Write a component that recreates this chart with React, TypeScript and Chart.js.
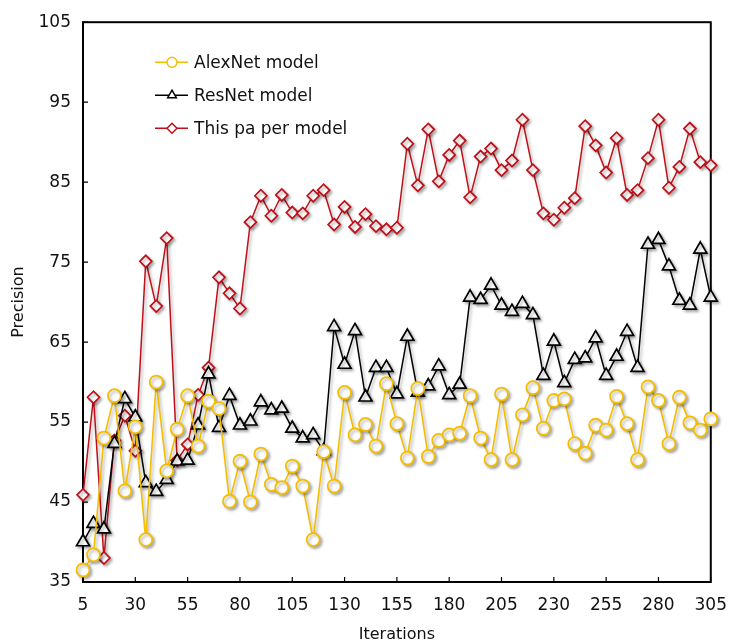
import React, { useEffect, useRef } from 'react';
import { Chart, registerables } from 'chart.js';
import { drawPoint } from 'chart.js/helpers';

Chart.register(...registerables);

const iterations = [
  5, 10, 15, 20, 25, 30, 35, 40, 45, 50, 55, 60, 65, 70, 75, 80, 85, 90, 95, 100,
  105, 110, 115, 120, 125, 130, 135, 140, 145, 150, 155, 160, 165, 170, 175, 180, 185, 190, 195, 200,
  205, 210, 215, 220, 225, 230, 235, 240, 245, 250, 255, 260, 265, 270, 275, 280, 285, 290, 295, 300, 305,
];

const alexNet = [
  36.5, 38.4, 53.0, 58.3, 46.4, 54.4, 40.3, 60.0, 48.9, 54.1, 58.3, 52.0, 57.6, 56.7, 45.1, 50.1, 45.0, 51.0, 47.2, 46.8,
  49.5, 47.0, 40.3, 51.3, 47.0, 58.7, 53.4, 54.7, 52.0, 59.8, 54.8, 50.5, 59.2, 50.7, 52.7, 53.4, 53.6, 58.3, 53.0, 50.3,
  58.5, 50.3, 55.9, 59.3, 54.2, 57.7, 57.9, 52.3, 51.1, 54.6, 54.0, 58.2, 54.8, 50.3, 59.4, 57.7, 52.3, 58.1, 54.9, 54.0, 55.4,
];

const resNet = [
  40.0, 42.3, 41.6, 52.3, 57.9, 55.6, 47.4, 46.3, 47.8, 50.1, 50.2, 54.6, 61.0, 54.3, 58.3, 54.6, 55.1, 57.5, 56.5, 56.7,
  54.2, 53.0, 53.4, 51.4, 66.9, 62.2, 66.4, 58.1, 61.8, 61.8, 58.5, 65.7, 58.7, 59.5, 62.0, 58.4, 59.7, 70.6, 70.3, 72.1,
  69.6, 68.8, 69.8, 68.4, 60.8, 65.1, 59.9, 62.8, 63.0, 65.5, 60.8, 63.2, 66.3, 61.8, 77.2, 77.8, 74.5, 70.2, 69.6, 76.6, 70.6,
];

const thisPaper = [
  45.9, 58.1, 38.0, 52.7, 55.8, 51.4, 75.1, 69.5, 78.0, 50.2, 52.2, 58.4, 61.8, 73.1, 71.1, 69.2, 80.0, 83.3, 80.8, 83.4,
  81.2, 81.1, 83.3, 84.0, 79.7, 81.9, 79.4, 81.0, 79.5, 79.1, 79.3, 89.8, 84.6, 91.6, 85.1, 88.4, 90.2, 83.1, 88.2, 89.2,
  86.5, 87.7, 92.8, 86.5, 81.1, 80.3, 81.8, 83.0, 92.0, 89.6, 86.2, 90.5, 83.4, 84.0, 88.0, 92.8, 84.3, 86.9, 91.7, 87.5, 87.1,
];

const xTickValues = [5, 30, 55, 80, 105, 130, 155, 180, 205, 230, 255, 280, 305];
const yTickValues = [35, 45, 55, 65, 75, 85, 95, 105];

const seriesNames = ['AlexNet model', 'ResNet model', 'This pa per model'];
const xTitle = 'Iterations';
const yTitle = 'Precision';

const FONT = "'DejaVu Sans', Verdana, sans-serif";
const YELLOW = '#F4BE00';
const BLACK = '#000000';
const RED = '#C00F18';

const framePlugin = {
  id: 'frameTicks',
  beforeDatasetsDraw(chart: any) {
    const { ctx, chartArea: a, scales } = chart;
    ctx.save();
    ctx.strokeStyle = '#000';
    ctx.lineWidth = 2;
    ctx.strokeRect(a.left, a.top, a.right - a.left, a.bottom - a.top);
    ctx.lineWidth = 1.2;
    ctx.beginPath();
    scales.x.ticks.forEach((t: any) => {
      const px = scales.x.getPixelForValue(t.value);
      ctx.moveTo(px, a.bottom);
      ctx.lineTo(px, a.bottom - 5);
    });
    scales.y.ticks.forEach((t: any) => {
      const py = scales.y.getPixelForValue(t.value);
      ctx.moveTo(a.left, py);
      ctx.lineTo(a.left + 5, py);
    });
    ctx.stroke();
    ctx.restore();
    ctx.save();
    ctx.shadowColor = 'rgba(0,0,0,0.3)';
    ctx.shadowBlur = 3;
    ctx.shadowOffsetX = 2;
    ctx.shadowOffsetY = 2;
  },
  afterDatasetsDraw(chart: any) {
    chart.ctx.restore();
  },
};

const legendPlugin = {
  id: 'insideLegend',
  afterDraw(chart: any) {
    const { ctx, chartArea: a } = chart;
    const x0 = a.left + 72;
    const y0 = a.top + 40;
    const rowGap = 33;
    chart.data.datasets.forEach((ds: any, i: number) => {
      const y = y0 + i * rowGap;
      ctx.save();
      ctx.strokeStyle = ds.borderColor;
      ctx.lineWidth = 1.5;
      ctx.beginPath();
      ctx.moveTo(x0, y);
      ctx.lineTo(x0 + 33, y);
      ctx.stroke();
      ctx.fillStyle = '#ffffff';
      ctx.strokeStyle = ds.pointBorderColor;
      drawPoint(ctx, { pointStyle: ds.pointStyle, radius: 5, borderWidth: 1.5, rotation: 0 } as any, x0 + 17, y);
      ctx.fillStyle = '#111111';
      ctx.font = `17px ${FONT}`;
      ctx.textBaseline = 'middle';
      ctx.textAlign = 'left';
      ctx.fillText(ds.label, x0 + 39, y + 1);
      ctx.restore();
    });
  },
};

export default function App() {
  const ref = useRef<HTMLCanvasElement | null>(null);

  useEffect(() => {
    if (!ref.current) return;
    const mk = (values: number[]) => iterations.map((x, i) => ({ x, y: values[i] }));
    const chart = new Chart(ref.current, {
      type: 'line',
      data: {
        datasets: [
          {
            label: seriesNames[0],
            data: mk(alexNet),
            borderColor: YELLOW,
            pointBorderColor: YELLOW,
            pointBackgroundColor: '#ffffff',
            pointStyle: 'circle',
            pointRadius: 6.5,
            pointBorderWidth: 1.8,
            borderWidth: 1.6,
            tension: 0,
            clip: false,
          },
          {
            label: seriesNames[1],
            data: mk(resNet),
            borderColor: BLACK,
            pointBorderColor: BLACK,
            pointBackgroundColor: '#ffffff',
            pointStyle: 'triangle',
            pointRadius: 7.5,
            pointBorderWidth: 1.7,
            borderWidth: 1.5,
            tension: 0,
            clip: false,
          },
          {
            label: seriesNames[2],
            data: mk(thisPaper),
            borderColor: RED,
            pointBorderColor: RED,
            pointBackgroundColor: '#ffffff',
            pointStyle: 'rectRot',
            pointRadius: 6,
            pointBorderWidth: 1.7,
            borderWidth: 1.5,
            tension: 0,
            clip: false,
          },
        ] as any,
      },
      options: {
        responsive: false,
        animation: false,
        events: [],
        layout: { padding: { top: 15, right: 18, bottom: 0, left: 0 } },
        plugins: {
          legend: { display: false },
          tooltip: { enabled: false },
        },
        scales: {
          x: {
            type: 'linear',
            min: 5,
            max: 305,
            afterBuildTicks: (scale: any) => {
              scale.ticks = xTickValues.map((v) => ({ value: v }));
            },
            afterFit: (scale: any) => {
              scale.height = 62;
            },
            grid: { display: false, drawTicks: false },
            border: { display: false },
            ticks: {
              autoSkip: false,
              maxRotation: 0,
              padding: 13,
              color: '#111111',
              font: { family: FONT, size: 17 },
              callback: (v: any) => String(v),
            },
            title: {
              display: true,
              text: xTitle,
              color: '#111111',
              font: { family: FONT, size: 16 },
              padding: { top: 0, bottom: 0 },
            },
          },
          y: {
            type: 'linear',
            min: 35,
            max: 105,
            afterBuildTicks: (scale: any) => {
              scale.ticks = yTickValues.map((v) => ({ value: v }));
            },
            afterFit: (scale: any) => {
              scale.width = 83;
            },
            grid: { display: false, drawTicks: false },
            border: { display: false },
            ticks: {
              autoSkip: false,
              padding: 12,
              color: '#111111',
              font: { family: FONT, size: 17 },
              callback: (v: any) => String(v),
            },
            title: {
              display: true,
              text: yTitle,
              color: '#111111',
              font: { family: FONT, size: 16 },
              padding: { top: 9, bottom: 0 },
            },
          },
        },
      },
      plugins: [framePlugin, legendPlugin],
    } as any);
    return () => chart.destroy();
  }, []);

  return (
    <div style={{ position: 'fixed', left: 0, top: 0, width: 740, height: 644, background: '#ffffff' }}>
      <canvas ref={ref} width={740} height={644} style={{ display: 'block' }} />
    </div>
  );
}
